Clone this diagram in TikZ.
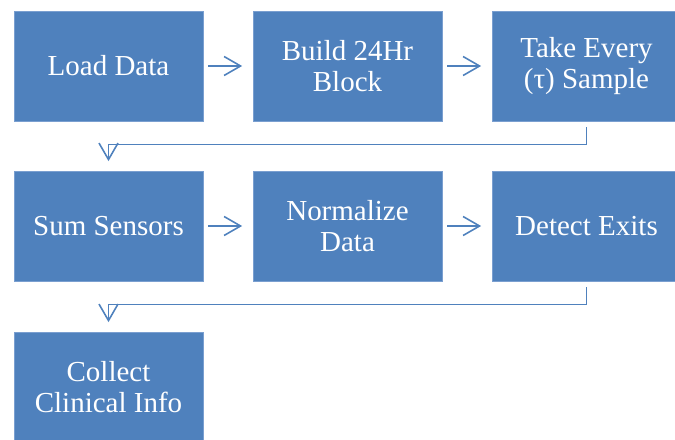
\documentclass[tikz,border=0pt]{standalone}
\usepackage{fontspec}
\setmainfont{Liberation Serif}
\usetikzlibrary{positioning,arrows.meta}
\definecolor{stepblue}{HTML}{4F81BD}
\definecolor{stepedge}{HTML}{7A9FD0}

\begin{document}
\begin{tikzpicture}[
  stepbox/.style={draw=stepedge, line width=0.4pt, fill=stepblue, minimum width=3.78cm,
    minimum height=2.2cm, text=white, align=center, inner sep=2pt,
    font=\fontsize{16.5}{17.3}\selectfont},
  flow/.style={-{Straight Barb[length=0.33cm, width=0.38cm]}, stepblue, line width=0.9pt},
  next/.style={flow, shorten <=0.1cm, shorten >=0.21cm}
]
\useasboundingbox (0,0) rectangle (13.5,-8.8);

% First row
\node[stepbox] (load)  at (2.17,-1.32)  {Load Data};
\node[stepbox] (block) at (6.95,-1.32)  {Build 24Hr\\Block};
\node[stepbox] (take)  at (11.73,-1.32) {Take Every\\(τ) Sample};
% Second row
\node[stepbox] (sum)    at (2.17,-4.52)  {Sum Sensors};
\node[stepbox] (norm)   at (6.95,-4.52)  {Normalize\\Data};
\node[stepbox] (detect) at (11.73,-4.52) {Detect Exits};
% Third row
\node[stepbox] (clinic) at (2.17,-7.74) {Collect\\Clinical Info};

% Arrows along each row
\draw[next] (load) -- (block);
\draw[next] (block) -- (take);
\draw[next] (sum) -- (norm);
\draw[next] (norm) -- (detect);

% Wrap-around connectors
\draw[flow] ([yshift=-0.12cm]take.south) -- ++(0,-0.34) -| ([yshift=0.19cm]sum.north);
\draw[flow] ([yshift=-0.12cm]detect.south) -- ++(0,-0.34) -| ([yshift=0.19cm]clinic.north);
\end{tikzpicture}
\end{document}
